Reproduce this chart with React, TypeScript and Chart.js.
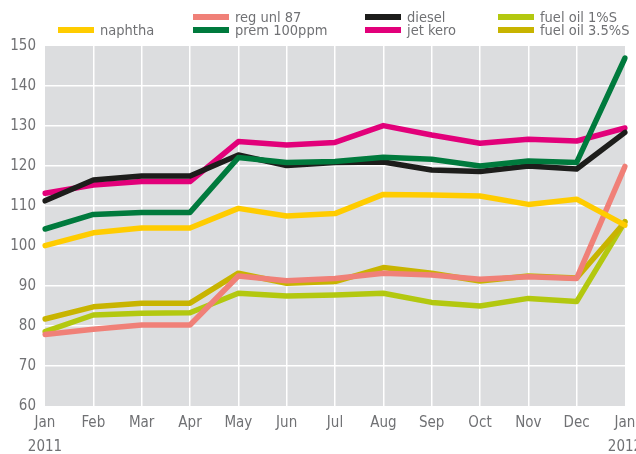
import React, { useEffect, useRef } from "react";
import { Chart, registerables } from "chart.js";

Chart.register(...registerables);

const months = ["Jan", "Feb", "Mar", "Apr", "May", "Jun", "Jul", "Aug", "Sep", "Oct", "Nov", "Dec", "Jan"];
const years = ["2011", "2012"];
const yTicks = [60, 70, 80, 90, 100, 110, 120, 130, 140, 150];

const naphtha = [100.1, 103.3, 104.5, 104.5, 109.4, 107.5, 108.1, 112.9, 112.75, 112.5, 110.4, 111.7, 105.2];
const regUnl87 = [77.9, 79.2, 80.25, 80.25, 92.5, 91.3, 91.9, 93.2, 92.75, 91.7, 92.3, 91.9, 119.9];
const prem100ppm = [104.25, 107.9, 108.4, 108.4, 122.1, 120.9, 121.1, 122.2, 121.7, 120.0, 121.25, 120.9, 147.0];
const diesel = [111.3, 116.5, 117.5, 117.5, 122.75, 120.1, 120.9, 121.0, 119.0, 118.6, 120.0, 119.25, 128.4];
const jetKero = [113.2, 115.25, 116.1, 116.1, 126.1, 125.25, 125.9, 130.1, 127.75, 125.7, 126.7, 126.25, 129.5];
const fuelOil1 = [78.6, 82.75, 83.2, 83.3, 88.2, 87.5, 87.75, 88.2, 85.9, 85.0, 86.9, 86.1, 106.1];
const fuelOil35 = [81.75, 84.8, 85.7, 85.7, 93.2, 90.7, 91.1, 94.6, 93.2, 91.25, 92.5, 92.0, 106.0];

const FONT = '"Liberation Sans Narrow", "DejaVu Sans Condensed", "Arial Narrow", sans-serif';
const TEXT = "#707174";

// legend layout: [datasetIndex, swatchX, rowY]
const legendLayout: [number, number, number][] = [
  [0, 58, 30],
  [1, 193, 17],
  [2, 193, 30],
  [3, 365, 17],
  [4, 365, 30],
  [5, 498, 17],
  [6, 498, 30],
];

const decorPlugin = {
  id: "decor",
  beforeDraw(chart: any) {
    const { ctx, chartArea } = chart;
    ctx.save();
    ctx.fillStyle = "#dcdddf";
    ctx.fillRect(chartArea.left, chartArea.top, chartArea.right - chartArea.left, chartArea.bottom - chartArea.top);
    ctx.restore();
  },
  afterDraw(chart: any) {
    const { ctx } = chart;
    ctx.save();
    ctx.font = `14.5px ${FONT}`;
    ctx.textBaseline = "middle";
    ctx.textAlign = "left";
    legendLayout.forEach(([i, x, y]) => {
      const ds = chart.data.datasets[i];
      ctx.strokeStyle = ds.borderColor;
      ctx.lineWidth = 6;
      ctx.beginPath();
      ctx.moveTo(x, y);
      ctx.lineTo(x + 36, y);
      ctx.stroke();
      ctx.fillStyle = TEXT;
      ctx.fillText(ds.label, x + 42, y + 1);
    });
    const xs = chart.scales.x;
    ctx.font = `15px ${FONT}`;
    ctx.textAlign = "center";
    ctx.fillStyle = TEXT;
    ctx.fillText(years[0], xs.getPixelForValue(0), 447);
    ctx.fillText(years[1], xs.getPixelForValue(months.length - 1), 447);
    ctx.restore();
  },
};

export default function App() {
  const ref = useRef<HTMLCanvasElement | null>(null);
  useEffect(() => {
    document.body.style.margin = "0";
    if (!ref.current) return;
    const mk = (label: string, data: number[], color: string, order: number) => ({
      label,
      data,
      borderColor: color,
      backgroundColor: color,
      borderWidth: 5.5,
      pointRadius: 0,
      tension: 0,
      fill: false,
      borderCapStyle: "round" as const,
      borderJoinStyle: "round" as const,
      order,
    });
    const chart = new Chart(ref.current, {
      type: "line",
      data: {
        labels: months,
        datasets: [
          mk("naphtha", naphtha, "#ffcc00", 0),
          mk("reg unl 87", regUnl87, "#f08078", 3),
          mk("prem 100ppm", prem100ppm, "#007a3d", 1),
          mk("diesel", diesel, "#1d1d1b", 2),
          mk("jet kero", jetKero, "#e2007a", 4),
          mk("fuel oil 1%S", fuelOil1, "#b3c80f", 6),
          mk("fuel oil 3.5%S", fuelOil35, "#c8b400", 5),
        ],
      },
      options: {
        animation: false,
        responsive: true,
        maintainAspectRatio: false,
        layout: { padding: { top: 46, right: 11, left: 0, bottom: 0 } },
        plugins: { legend: { display: false }, tooltip: { enabled: false } },
        scales: {
          x: {
            type: "category",
            offset: false,
            border: { display: false },
            grid: {
              color: (c: any) => (c.index === 0 || c.index === months.length - 1 ? "rgba(0,0,0,0)" : "#ffffff"),
              lineWidth: 1.5,
              drawTicks: false,
            },
            ticks: {
              autoSkip: false,
              maxRotation: 0,
              padding: 8,
              color: TEXT,
              font: { family: FONT, size: 15 },
            },
            afterFit: (s: any) => {
              s.height = 48;
              s.paddingLeft = 0;
              s.paddingRight = 0;
            },
          },
          y: {
            min: 60,
            max: 150,
            border: { display: false },
            grid: {
              color: (c: any) => (c.tick && (c.tick.value === 60 || c.tick.value === 150) ? "rgba(0,0,0,0)" : "#ffffff"),
              lineWidth: 1.5,
              drawTicks: false,
            },
            afterBuildTicks: (s: any) => {
              s.ticks = yTicks.map((v) => ({ value: v }));
            },
            ticks: {
              padding: 9,
              color: TEXT,
              font: { family: FONT, size: 15 },
            },
            afterFit: (s: any) => {
              s.width = 45;
              s.paddingTop = 0;
              s.paddingBottom = 0;
            },
          },
        },
      },
      plugins: [decorPlugin],
    });
    return () => chart.destroy();
  }, []);
  return (
    <div style={{ width: 636, height: 454, position: "relative" }}>
      <canvas ref={ref} />
    </div>
  );
}
